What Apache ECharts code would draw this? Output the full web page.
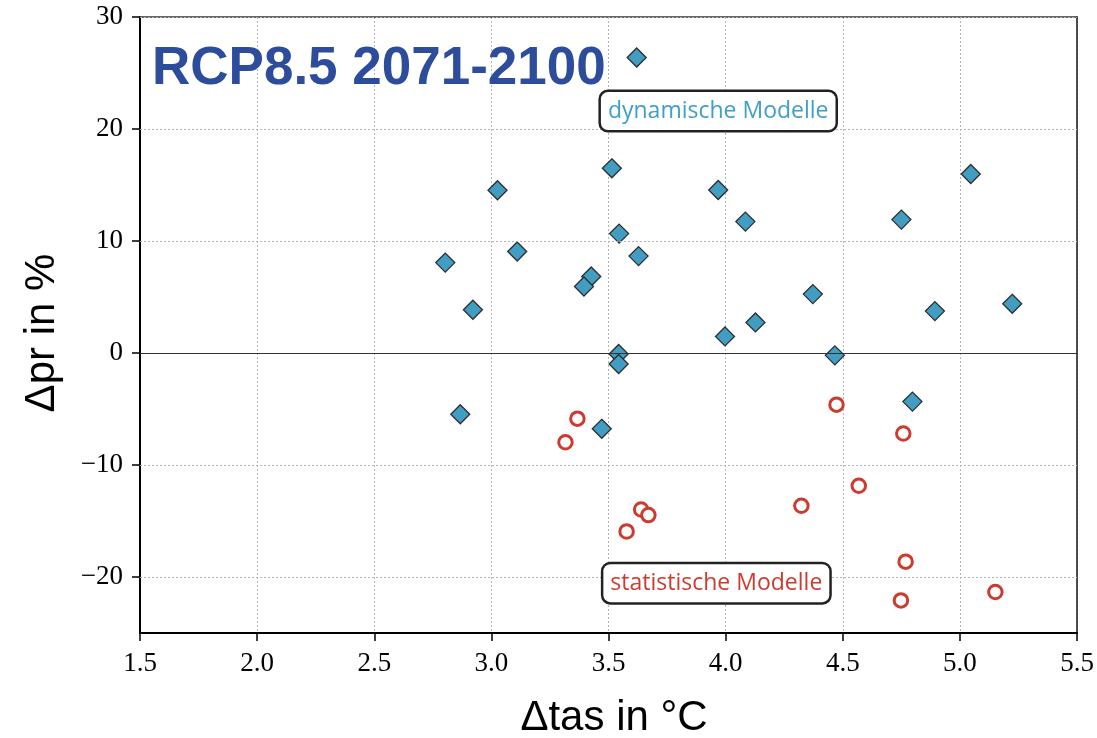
<!DOCTYPE html>
<html>
<head>
<meta charset="utf-8">
<title>RCP8.5 2071-2100</title>
<script src="https://cdn.jsdelivr.net/npm/echarts@6/dist/echarts.min.js"></script>
<style>
  html, body { margin: 0; padding: 0; background: #ffffff; }
  #chart { width: 1097px; height: 738px; }
</style>
</head>
<body>
<div id="chart"></div>
<script>
// Temperature change (°C) and precipitation change (%) per model run
const dynamicTas = [3.62, 3.514, 3.026, 3.968, 5.046, 4.084, 4.75, 3.545, 3.11, 2.803, 3.628, 3.426, 3.395,
                    4.372, 5.223, 2.921, 4.893, 3.997, 4.127, 3.543, 3.543, 4.466, 2.867, 3.471, 4.797];
const dynamicPr  = [26.38, 16.49, 14.53, 14.55, 15.98, 11.73, 11.91, 10.66, 9.06, 8.07, 8.65, 6.83, 5.94,
                    5.26, 4.39, 3.86, 3.74, 1.48, 2.73, -0.09, -0.98, -0.21, -5.47, -6.77, -4.34];

const statisticalTas = [3.367, 3.316, 3.639, 3.670, 3.577, 4.473, 4.758, 4.568, 4.323, 4.768, 4.748, 5.151];
const statisticalPr  = [-5.86, -7.97, -13.97, -14.47, -15.93, -4.61, -7.19, -11.85, -13.64, -18.63, -22.09, -21.34];

// Group labels and where they sit in data space
const groupNames = ['dynamische Modelle', 'statistische Modelle'];
const groupLabelPos = [[3.968, 21.6], [3.96, -20.55]];

// Axis ranges and tick values
const xTicks = { min: 1.5, max: 5.5, interval: 0.5 };
const yRange = { min: -25, max: 30 };
const yTickValues = [-20, -10, 0, 10, 20, 30];

const toPairs = (xs, ys) => xs.map((x, i) => [x, ys[i]]);

const tickFont = { fontFamily: 'Liberation Serif', fontSize: 27, color: '#000' };
const dotted = { color: '#b5b5b5', type: [2, 2], width: 1 };

const chart = echarts.init(document.getElementById('chart'), null, { renderer: 'canvas' });

chart.setOption({
  animation: false,
  backgroundColor: '#ffffff',
  grid: { left: 140, right: 17, top: 17, bottom: 105, containLabel: false },
  xAxis: [
    {
      type: 'value', min: xTicks.min, max: xTicks.max, interval: xTicks.interval,
      position: 'bottom',
      axisLine: { show: true, onZero: false, lineStyle: { color: '#000', width: 2 } },
      axisTick: { show: true, inside: false, length: 8, lineStyle: { color: '#000', width: 1.5 } },
      axisLabel: Object.assign({ margin: 17, formatter: v => v.toFixed(1) }, tickFont),
      splitLine: { show: true, lineStyle: dotted }
    },
    {
      type: 'value', min: xTicks.min, max: xTicks.max, interval: xTicks.interval,
      position: 'top',
      axisLine: { show: true, onZero: false, lineStyle: { color: '#333', width: 1.6 } },
      axisTick: { show: false }, axisLabel: { show: false }, splitLine: { show: false }
    }
  ],
  yAxis: [
    {
      type: 'value', min: yRange.min, max: yRange.max,
      position: 'left',
      axisLine: { show: true, onZero: false, lineStyle: { color: '#000', width: 2 } },
      axisTick: { show: true, inside: false, length: 8, customValues: yTickValues,
                  lineStyle: { color: '#000', width: 1.5 } },
      axisLabel: Object.assign({
        margin: 17,
        customValues: yTickValues,
        formatter: v => (v < 0 ? '\u2212' + Math.abs(v) : String(v))
      }, tickFont),
      splitLine: { show: false }
    },
    {
      type: 'value', min: yRange.min, max: yRange.max,
      position: 'right',
      axisLine: { show: true, onZero: false, lineStyle: { color: '#222', width: 1.6 } },
      axisTick: { show: false }, axisLabel: { show: false }, splitLine: { show: false }
    }
  ],
  series: [
    {
      // horizontal grid lines at the y tick values, plus the solid zero line
      name: 'Gitter',
      type: 'scatter',
      xAxisIndex: 0, yAxisIndex: 0,
      data: [],
      silent: true,
      z: 1,
      markLine: {
        silent: true,
        symbol: 'none',
        label: { show: false },
        animation: false,
        data: yTickValues.filter(v => v !== 0).map(v => ({ yAxis: v, lineStyle: dotted }))
          .concat([{ yAxis: 0, lineStyle: { color: '#333', width: 1.2, type: 'solid' } }])
      }
    },
    {
      name: 'dynamisch',
      type: 'scatter',
      xAxisIndex: 0, yAxisIndex: 0,
      symbol: 'diamond',
      symbolSize: 19,
      silent: true,
      z: 3,
      itemStyle: { color: '#419dc2', borderColor: '#2e2e2e', borderWidth: 1.3, opacity: 1 },
      data: toPairs(dynamicTas, dynamicPr)
    },
    {
      name: 'statistisch',
      type: 'scatter',
      xAxisIndex: 0, yAxisIndex: 0,
      symbol: 'circle',
      symbolSize: 13.5,
      silent: true,
      z: 4,
      itemStyle: { color: '#ffffff', borderColor: '#cc3b2e', borderWidth: 3, opacity: 1 },
      data: toPairs(statisticalTas, statisticalPr)
    },
    {
      name: 'Beschriftung',
      type: 'scatter',
      xAxisIndex: 0, yAxisIndex: 0,
      symbolSize: 0,
      silent: true,
      z: 10,
      itemStyle: { color: '#ffffff' },
      data: groupLabelPos.map((p, i) => ({
        value: p,
        label: {
          show: true,
          position: 'inside',
          formatter: groupNames[i],
          fontFamily: 'Open Sans',
          fontSize: 23,
          lineHeight: 25,
          opacity: 1,
          textBorderWidth: 0,
          textShadowBlur: 0,
          color: i === 0 ? '#3f9fc8' : '#cf3a2e',
          backgroundColor: '#ffffff',
          borderColor: '#222222',
          borderWidth: 2.5,
          borderRadius: 7,
          padding: [6, 7, 7, 7]
        }
      }))
    }
  ],
  graphic: [
    {
      type: 'text',
      x: 152, y: 69,
      z: 20,
      style: {
        text: 'RCP8.5 2071-2100',
        fontFamily: 'Liberation Sans',
        fontWeight: 'bold',
        fontSize: 53,
        fill: '#2d4d9c',
        align: 'left',
        verticalAlign: 'middle'
      }
    },
    {
      type: 'text',
      x: 614, y: 718,
      style: {
        text: '\u0394tas in \u00b0C',
        fontFamily: 'Liberation Sans',
        fontSize: 42,
        fill: '#000',
        align: 'center',
        verticalAlign: 'middle'
      }
    },
    {
      type: 'text',
      x: 42, y: 333,
      rotation: Math.PI / 2,
      style: {
        text: '\u0394pr in %',
        fontFamily: 'Liberation Sans',
        fontSize: 42,
        fill: '#000',
        align: 'center',
        verticalAlign: 'middle'
      }
    }
  ]
});
</script>
</body>
</html>
